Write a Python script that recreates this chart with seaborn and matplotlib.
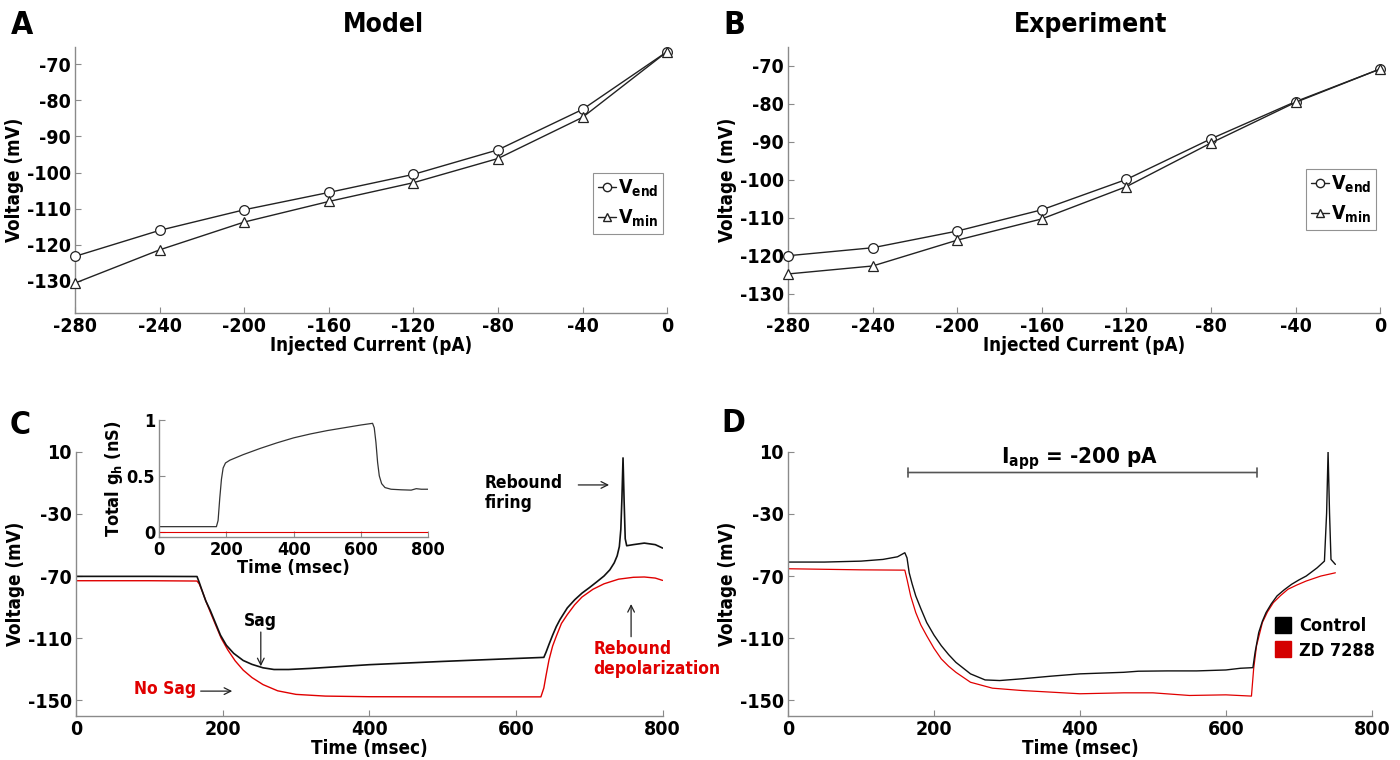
import matplotlib
matplotlib.use("Agg")
import matplotlib.pyplot as plt
import seaborn as sns
from matplotlib import font_manager
from matplotlib.lines import Line2D

# ---------------- data ----------------
current = [-280, -240, -200, -160, -120, -80, -40, 0]
model_vend = [-123.2, -116.0, -110.3, -105.5, -100.5, -93.7, -82.5, -66.5]
model_vmin = [-130.6, -121.4, -113.7, -108.0, -102.8, -96.1, -84.7, -66.5]
exp_vend = [-120.0, -117.9, -113.5, -107.9, -99.9, -89.2, -79.4, -70.8]
exp_vmin = [-124.8, -122.7, -115.9, -110.3, -101.8, -90.3, -79.6, -70.8]
iv_xticks = [-280, -240, -200, -160, -120, -80, -40, 0]
iv_yticks = [-70, -80, -90, -100, -110, -120, -130]

c_black_t = [0, 100, 165, 168, 172, 177, 183, 190, 197, 205, 215, 228, 240, 255, 270, 290, 320,
             400, 500, 600, 638, 641, 645, 650, 655, 660, 670, 680, 690, 700, 710, 720, 728, 734,
             738, 741, 743, 744.5, 746, 747.5, 749, 751, 760, 775, 790, 800]
c_black_v = [-70.2, -70.2, -70.3, -74, -79.5, -86, -92, -100, -108, -114.5, -119.7, -124.3, -126.8,
             -129, -130.1, -130.1, -129.4, -127.0, -124.9, -123.0, -122.3, -119, -114, -108, -102.5,
             -98, -90.5, -85.3, -81, -77.5, -73.8, -70, -66, -61.5, -57, -51, -40, -20, 6, -22, -46,
             -50.5, -49.8, -48.8, -49.8, -52]
c_red_t = [0, 100, 165, 168, 172, 177, 183, 190, 198, 207, 217, 228, 240, 255, 275, 300, 340, 400,
           500, 634, 638, 641, 645, 650, 655, 662, 670, 680, 690, 705, 720, 740, 760, 775, 790, 800]
c_red_v = [-73, -73, -73.2, -75, -79.5, -86, -93, -101, -110, -117.5, -124.5, -130.5, -135.3, -139.8,
           -143.8, -146.1, -147.2, -147.6, -147.7, -147.7, -142, -134, -124, -115, -108.7, -100.5,
           -94.8, -88.5, -83.5, -78.5, -75, -72, -70.8, -70.6, -71.3, -72.8]

gh_t = [0, 170, 175, 180, 185, 190, 197, 210, 250, 300, 350, 400, 450, 500, 550, 600, 635, 640,
        645, 650, 655, 662, 672, 690, 720, 750, 765, 780, 800]
gh_black = [0.045, 0.045, 0.1, 0.3, 0.47, 0.57, 0.615, 0.64, 0.69, 0.745, 0.795, 0.84, 0.875, 0.905,
            0.93, 0.955, 0.97, 0.93, 0.8, 0.62, 0.5, 0.43, 0.395, 0.38, 0.375, 0.372, 0.385, 0.38, 0.38]
gh_red_t = [0, 800]
gh_red = [0.0, 0.0]

d_black_t = [0, 50, 100, 130, 150, 160, 163, 166, 170, 175, 182, 190, 200, 210, 220, 230, 250, 270,
             290, 320, 360, 400, 460, 480, 520, 560, 600, 620, 637, 640, 645, 650, 655, 662, 670,
             680, 690, 700, 710, 725, 735, 738, 740, 742, 744, 750]
d_black_v = [-61.0, -61.0, -60.4, -59.3, -57.6, -55, -58.3, -67.9, -75, -82.8, -91, -99.9, -108,
             -114.8, -120.5, -125.5, -132.9, -136.8, -137.2, -136.1, -134.4, -132.9, -131.9, -131.2,
             -131, -131, -130.4, -129.3, -128.9, -119, -106.3, -99, -93.5, -88, -82.8, -78.8, -75.3,
             -72.5, -70, -64.7, -60.4, -29.5, 10, -29.5, -59.3, -62.5]
d_red_t = [0, 100, 160, 163, 168, 175, 182, 190, 200, 210, 220, 230, 250, 280, 320, 400, 460, 500,
           550, 600, 635, 638, 642, 650, 657, 665, 675, 685, 697, 710, 730, 750]
d_red_v = [-65.3, -66, -66.2, -72.1, -82.8, -93.5, -101.5, -108.4, -116.5, -123.3, -128, -131.9,
           -138.3, -142.1, -143.6, -145.7, -145.1, -145.1, -146.8, -146.4, -147.2, -129.7, -114.8,
           -99.9, -93, -87.1, -82.5, -78.5, -75.8, -73.2, -70, -67.9]
trace_xticks = [0, 200, 400, 600, 800]
trace_yticks = [10, -30, -70, -110, -150]
inset_yticks = [0, 0.5, 1]

legend_iv = [r"$\mathbf{V_{end}}$", r"$\mathbf{V_{min}}$"]
legend_d = ["Control", "ZD 7288"]

# ---------------- style ----------------
sns.set_theme(style="ticks")
ttf = font_manager.fontManager.ttflist
names = {f.name for f in ttf}
STRETCH = "normal"
if "Liberation Sans Narrow" in names:
    FAM, K = "Liberation Sans Narrow", 1.2
elif any(f.name == "DejaVu Sans" and f.stretch == "condensed" for f in ttf):
    FAM, K, STRETCH = "DejaVu Sans", 1.0, "condensed"
elif "Liberation Sans" in names:
    FAM, K = "Liberation Sans", 1.0
else:
    FAM, K = "DejaVu Sans", 0.92
plt.rcParams["font.family"] = [FAM, "DejaVu Sans"]
plt.rcParams["font.stretch"] = STRETCH
plt.rcParams["font.weight"] = "bold"
plt.rcParams["axes.labelweight"] = "bold"
plt.rcParams["axes.unicode_minus"] = False
plt.rcParams["text.color"] = "black"
plt.rcParams["axes.labelcolor"] = "black"
plt.rcParams["xtick.labelcolor"] = "black"
plt.rcParams["ytick.labelcolor"] = "black"
plt.rcParams["mathtext.fontset"] = "custom"
plt.rcParams["mathtext.rm"] = FAM + ":bold"
plt.rcParams["mathtext.it"] = FAM + ":bold"
plt.rcParams["mathtext.bf"] = FAM + ":bold"

FS_TICK = 14 * K
FS_LAB = 13.5 * K
FS_ANN = 12.5 * K
RED = "#e00000"
SPINE = "#8a8a8a"

fig = plt.figure(figsize=(14, 7.6), dpi=100)
axA = fig.add_axes([0.0536, 0.5886, 0.4229, 0.3496])
axB = fig.add_axes([0.5629, 0.5886, 0.4229, 0.3496])
axC = fig.add_axes([0.0543, 0.0579, 0.4190, 0.3478])
axD = fig.add_axes([0.5629, 0.0579, 0.4170, 0.3478])
axI = fig.add_axes([0.1138, 0.2938, 0.1919, 0.1536])


def style_axes(ax, xt, yt, fs, ylabs=None):
    for s in ["top", "right"]:
        ax.spines[s].set_visible(False)
    for s in ["left", "bottom"]:
        ax.spines[s].set_color(SPINE)
        ax.spines[s].set_linewidth(1.0)
    ax.tick_params(direction="in", length=4, width=0.8, color=SPINE, pad=3,
                   labelcolor="black")
    ax.set_xticks(xt)
    ax.set_xticklabels([str(v) for v in xt], fontsize=fs, fontweight="bold", color="black")
    ax.set_yticks(yt)
    ax.set_yticklabels(ylabs if ylabs else [str(v) for v in yt], fontsize=fs,
                       fontweight="bold", color="black")


# ---------------- A & B ----------------
for ax, vend, vmin, ylim, loc_y in [(axA, model_vend, model_vmin, (-138.8, -65.2), 0.525),
                                    (axB, exp_vend, exp_vmin, (-135, -65), 0.54)]:
    for yv, mk in [(vend, "o"), (vmin, "^")]:
        sns.lineplot(x=current, y=yv, ax=ax, color="#222222", lw=1.0, marker=mk,
                     markersize=7, markerfacecolor="white", markeredgecolor="#222222",
                     markeredgewidth=0.9, clip_on=False, zorder=3)
    ax.set_xlim(-280, 0)
    ax.set_ylim(*ylim)
    ax.set_xlabel("Injected Current (pA)", fontsize=FS_LAB, labelpad=0)
    ax.set_ylabel("Voltage (mV)", fontsize=FS_LAB, labelpad=2)
    style_axes(ax, iv_xticks, iv_yticks, FS_TICK)
    hs = [Line2D([], [], color="#222222", lw=1.0, marker="o", markersize=6,
                 markerfacecolor="white", markeredgecolor="#222222"),
          Line2D([], [], color="#222222", lw=1.0, marker="^", markersize=6,
                 markerfacecolor="white", markeredgecolor="#222222")]
    leg = ax.legend(hs, legend_iv, loc="upper right", bbox_to_anchor=(0.993, loc_y),
                    frameon=True, fancybox=False, fontsize=14 * K, handlelength=0.9,
                    handletextpad=0.1, borderpad=0.25, labelspacing=0.45, borderaxespad=0)
    leg.get_frame().set_edgecolor("#777777")
    leg.get_frame().set_linewidth(0.8)

fig.text(383 / 1400, 1 - 25 / 760, "Model", ha="center", va="center", fontsize=19 * K,
         fontweight="bold")
fig.text(1091 / 1400, 1 - 25 / 760, "Experiment", ha="center", va="center", fontsize=19 * K,
         fontweight="bold")
for letter, (px, py) in zip("ABCD", [(22, 26), (734, 26), (20, 425), (733, 423)]):
    fig.text(px / 1400, 1 - py / 760, letter, ha="center", va="center", fontsize=23 * K,
             fontweight="bold")

# ---------------- C ----------------
sns.lineplot(x=c_red_t, y=c_red_v, ax=axC, color=RED, lw=1.0)
sns.lineplot(x=c_black_t, y=c_black_v, ax=axC, color="#111111", lw=1.2)
axC.set_xlim(0, 800)
axC.set_ylim(-160, 10)
axC.set_xlabel("Time (msec)", fontsize=FS_LAB, labelpad=0)
axC.set_ylabel("Voltage (mV)", fontsize=FS_LAB, labelpad=2)
style_axes(axC, trace_xticks, trace_yticks, FS_TICK)

arrow_k = dict(arrowstyle="->", color="#222222", lw=0.9, shrinkA=0, shrinkB=0)
axC.text(557, -16.5, "Rebound\nfiring", ha="left", va="center", fontsize=FS_ANN,
         fontweight="bold", linespacing=1.15)
axC.annotate("", xy=(727, -11.4), xytext=(685, -11.4), arrowprops=arrow_k)
axC.text(252, -99, "Sag", ha="center", va="center", fontsize=FS_ANN, fontweight="bold")
axC.annotate("", xy=(252, -128), xytext=(252, -106), arrowprops=arrow_k)
axC.text(164, -142.5, "No Sag", ha="right", va="center", fontsize=FS_ANN, fontweight="bold",
         color=RED)
axC.annotate("", xy=(213, -144), xytext=(170, -144), arrowprops=arrow_k)
axC.text(706, -123.5, "Rebound\ndepolarization", ha="left", va="center", fontsize=FS_ANN,
         fontweight="bold", color=RED, linespacing=1.15, clip_on=False)
axC.annotate("", xy=(757, -88), xytext=(757, -109), arrowprops=arrow_k)

# ---------------- inset ----------------
sns.lineplot(x=gh_red_t, y=gh_red, ax=axI, color=RED, lw=0.8)
sns.lineplot(x=gh_t, y=gh_black, ax=axI, color="#333333", lw=0.9)
axI.set_xlim(0, 800)
axI.set_ylim(-0.045, 1.0)
axI.set_xlabel("Time (msec)", fontsize=13 * K, labelpad=0)
axI.set_ylabel(r"Total $\mathbf{g_h}$ (nS)", fontsize=13 * K, labelpad=1)
style_axes(axI, trace_xticks, inset_yticks, 13 * K, ylabs=["0", "0.5", "1"])
axI.patch.set_alpha(0)

# ---------------- D ----------------
sns.lineplot(x=d_red_t, y=d_red_v, ax=axD, color=RED, lw=0.9)
sns.lineplot(x=d_black_t, y=d_black_v, ax=axD, color="#111111", lw=1.0)
axD.set_xlim(0, 800)
axD.set_ylim(-160, 10)
axD.set_xlabel("Time (msec)", fontsize=FS_LAB, labelpad=0)
axD.set_ylabel("Voltage (mV)", fontsize=FS_LAB, labelpad=2)
style_axes(axD, trace_xticks, trace_yticks, FS_TICK)
axD.annotate("", xy=(642, -3.4), xytext=(164.5, -3.4),
             arrowprops=dict(arrowstyle="|-|,widthA=0.25,widthB=0.25", color="#555555",
                             lw=1.2, shrinkA=0, shrinkB=0))
axD.text(400, 5.5, r"$\mathbf{I_{app}}$ = -200 pA", ha="center", va="center", fontsize=16 * K,
         fontweight="bold")
hd = [Line2D([], [], color="black", marker="s", linestyle="none", markersize=12),
      Line2D([], [], color="#d40000", marker="s", linestyle="none", markersize=12)]
axD.legend(hd, legend_d, loc="center left", bbox_to_anchor=(0.82, 0.293), frameon=False,
           fontsize=13 * K, handlelength=1.0, handletextpad=0.4, labelspacing=0.35,
           borderaxespad=0)

fig.savefig("out.png", dpi=100)
